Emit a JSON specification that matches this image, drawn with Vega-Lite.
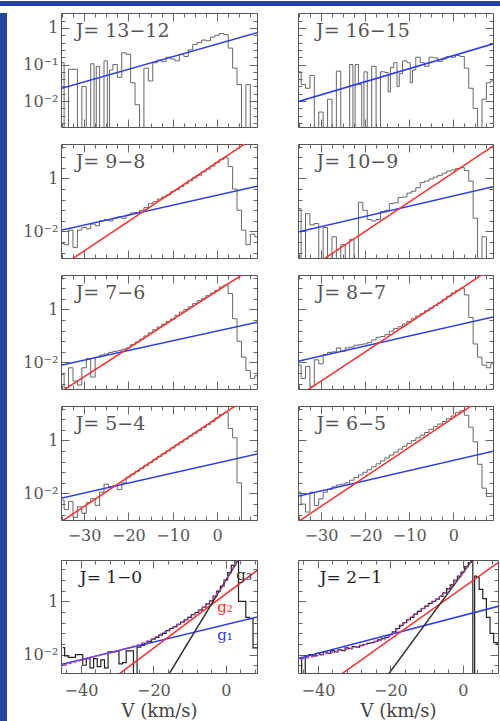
{
"$schema": "https://vega.github.io/schema/vega-lite/v6.json",
"padding": 0,
"background": "#ffffff",
"spacing": 0,
"config": {
  "view": {"stroke": "#555555", "strokeWidth": 1},
  "axis": {"domain": false, "grid": false, "tickColor": "#666666", "tickWidth": 1, "labelFont": "DejaVu Serif", "labelFontSize": 16, "labelColor": "#555555", "titleFont": "DejaVu Serif", "titleFontSize": 18, "titleFontWeight": "normal", "titleColor": "#444444", "labelPadding": 11}
},
"datasets": {
  "spec": [
    {"p":"13-12","v":-35,"t":-0.95},{"p":"13-12","v":-34,"t":-3.5},{"p":"13-12","v":-33,"t":-1.13},{"p":"13-12","v":-32,"t":-1.13},{"p":"13-12","v":-31,"t":-3.5},{"p":"13-12","v":-30,"t":-1.6},{"p":"13-12","v":-29,"t":-3.5},{"p":"13-12","v":-28,"t":-0.98},{"p":"13-12","v":-27.5,"t":-3.5},{"p":"13-12","v":-27,"t":-1.05},{"p":"13-12","v":-26,"t":-3.5},{"p":"13-12","v":-25,"t":-0.9},{"p":"13-12","v":-24.5,"t":-3.5},{"p":"13-12","v":-24,"t":-1.15},{"p":"13-12","v":-23,"t":-1.0},{"p":"13-12","v":-22,"t":-1.35},{"p":"13-12","v":-21,"t":-0.68},{"p":"13-12","v":-20,"t":-0.72},{"p":"13-12","v":-19,"t":-1.5},{"p":"13-12","v":-18,"t":-2.1},{"p":"13-12","v":-17,"t":-3.5},{"p":"13-12","v":-16,"t":-1.1},{"p":"13-12","v":-15,"t":-1.45},{"p":"13-12","v":-14,"t":-0.95},{"p":"13-12","v":-13,"t":-0.88},{"p":"13-12","v":-12,"t":-0.92},{"p":"13-12","v":-11,"t":-0.8},{"p":"13-12","v":-10,"t":-0.85},{"p":"13-12","v":-9,"t":-0.9},{"p":"13-12","v":-8,"t":-0.72},{"p":"13-12","v":-7,"t":-0.78},{"p":"13-12","v":-6,"t":-0.6},{"p":"13-12","v":-5,"t":-0.45},{"p":"13-12","v":-4,"t":-0.4},{"p":"13-12","v":-3,"t":-0.33},{"p":"13-12","v":-2,"t":-0.35},{"p":"13-12","v":-1,"t":-0.25},{"p":"13-12","v":0,"t":-0.2},{"p":"13-12","v":1,"t":-0.15},{"p":"13-12","v":2,"t":-0.18},{"p":"13-12","v":3,"t":-0.55},{"p":"13-12","v":4,"t":-1.1},{"p":"13-12","v":5,"t":-1.55},{"p":"13-12","v":6,"t":-3.5},{"p":"13-12","v":7,"t":-1.55},{"p":"13-12","v":8,"t":-3.5},{"p":"13-12","v":9,"t":-3.5},
    {"p":"16-15","v":-35,"t":-1.2},{"p":"16-15","v":-34,"t":-1.55},{"p":"16-15","v":-33,"t":-1.65},{"p":"16-15","v":-32,"t":-1.3},{"p":"16-15","v":-31,"t":-3.5},{"p":"16-15","v":-30,"t":-2.3},{"p":"16-15","v":-29,"t":-3.5},{"p":"16-15","v":-28,"t":-1.95},{"p":"16-15","v":-27,"t":-3.5},{"p":"16-15","v":-26,"t":-1.18},{"p":"16-15","v":-25,"t":-3.5},{"p":"16-15","v":-24,"t":-3.5},{"p":"16-15","v":-23,"t":-1.0},{"p":"16-15","v":-22.5,"t":-3.5},{"p":"16-15","v":-22,"t":-1.0},{"p":"16-15","v":-21,"t":-1.55},{"p":"16-15","v":-20.5,"t":-3.5},{"p":"16-15","v":-20,"t":-1.2},{"p":"16-15","v":-19,"t":-3.5},{"p":"16-15","v":-18,"t":-1.05},{"p":"16-15","v":-17,"t":-3.5},{"p":"16-15","v":-16,"t":-1.2},{"p":"16-15","v":-15,"t":-1.22},{"p":"16-15","v":-14.5,"t":-1.75},{"p":"16-15","v":-14,"t":-1.08},{"p":"16-15","v":-13,"t":-0.95},{"p":"16-15","v":-12.5,"t":-1.6},{"p":"16-15","v":-12,"t":-1.25},{"p":"16-15","v":-11,"t":-0.9},{"p":"16-15","v":-10,"t":-0.95},{"p":"16-15","v":-9.5,"t":-1.5},{"p":"16-15","v":-9,"t":-1.15},{"p":"16-15","v":-8,"t":-0.8},{"p":"16-15","v":-7,"t":-0.95},{"p":"16-15","v":-6,"t":-1.05},{"p":"16-15","v":-5,"t":-0.8},{"p":"16-15","v":-4,"t":-0.82},{"p":"16-15","v":-3,"t":-0.92},{"p":"16-15","v":-2,"t":-0.85},{"p":"16-15","v":-1,"t":-0.78},{"p":"16-15","v":0,"t":-0.8},{"p":"16-15","v":1,"t":-0.75},{"p":"16-15","v":2,"t":-0.78},{"p":"16-15","v":3,"t":-1.1},{"p":"16-15","v":4,"t":-1.65},{"p":"16-15","v":5,"t":-2.2},{"p":"16-15","v":6,"t":-3.5},{"p":"16-15","v":7,"t":-1.95},{"p":"16-15","v":8,"t":-1.5},{"p":"16-15","v":9,"t":-1.45},
    {"p":"9-8","v":-35,"t":-2.45},{"p":"9-8","v":-34,"t":-2.5},{"p":"9-8","v":-33,"t":-1.95},{"p":"9-8","v":-32,"t":-2.6},{"p":"9-8","v":-31,"t":-1.95},{"p":"9-8","v":-30,"t":-1.85},{"p":"9-8","v":-29,"t":-1.9},{"p":"9-8","v":-28,"t":-1.72},{"p":"9-8","v":-27,"t":-1.78},{"p":"9-8","v":-26,"t":-1.6},{"p":"9-8","v":-25,"t":-1.55},{"p":"9-8","v":-24,"t":-1.6},{"p":"9-8","v":-23,"t":-1.5},{"p":"9-8","v":-22,"t":-1.45},{"p":"9-8","v":-21,"t":-1.5},{"p":"9-8","v":-20,"t":-1.38},{"p":"9-8","v":-19,"t":-1.3},{"p":"9-8","v":-18,"t":-1.28},{"p":"9-8","v":-17,"t":-1.2},{"p":"9-8","v":-16,"t":-1.1},{"p":"9-8","v":-15,"t":-0.95},{"p":"9-8","v":-14,"t":-0.88},{"p":"9-8","v":-13,"t":-0.78},{"p":"9-8","v":-12,"t":-0.7},{"p":"9-8","v":-11,"t":-0.62},{"p":"9-8","v":-10,"t":-0.5},{"p":"9-8","v":-9,"t":-0.42},{"p":"9-8","v":-8,"t":-0.3},{"p":"9-8","v":-7,"t":-0.2},{"p":"9-8","v":-6,"t":-0.08},{"p":"9-8","v":-5,"t":0.02},{"p":"9-8","v":-4,"t":0.12},{"p":"9-8","v":-3,"t":0.25},{"p":"9-8","v":-2,"t":0.35},{"p":"9-8","v":-1,"t":0.47},{"p":"9-8","v":0,"t":0.6},{"p":"9-8","v":1,"t":0.72},{"p":"9-8","v":2,"t":0.78},{"p":"9-8","v":3,"t":0.45},{"p":"9-8","v":4,"t":-0.4},{"p":"9-8","v":5,"t":-1.2},{"p":"9-8","v":6,"t":-1.95},{"p":"9-8","v":7,"t":-2.5},{"p":"9-8","v":8,"t":-2.1},{"p":"9-8","v":9,"t":-2.2},
    {"p":"10-9","v":-35,"t":-1.14},{"p":"10-9","v":-34,"t":-3.5},{"p":"10-9","v":-33,"t":-1.33},{"p":"10-9","v":-32,"t":-1.75},{"p":"10-9","v":-31,"t":-1.7},{"p":"10-9","v":-30,"t":-3.5},{"p":"10-9","v":-29,"t":-1.85},{"p":"10-9","v":-28,"t":-3.5},{"p":"10-9","v":-27,"t":-2.2},{"p":"10-9","v":-26,"t":-3.5},{"p":"10-9","v":-25,"t":-2.5},{"p":"10-9","v":-24,"t":-3.5},{"p":"10-9","v":-23,"t":-2.3},{"p":"10-9","v":-22,"t":-3.5},{"p":"10-9","v":-21,"t":-0.9},{"p":"10-9","v":-20,"t":-1.2},{"p":"10-9","v":-19,"t":-1.55},{"p":"10-9","v":-18,"t":-1.6},{"p":"10-9","v":-17,"t":-1.55},{"p":"10-9","v":-16,"t":-1.25},{"p":"10-9","v":-15,"t":-1.2},{"p":"10-9","v":-14,"t":-0.95},{"p":"10-9","v":-13,"t":-0.92},{"p":"10-9","v":-12,"t":-0.72},{"p":"10-9","v":-11,"t":-0.7},{"p":"10-9","v":-10,"t":-0.55},{"p":"10-9","v":-9,"t":-0.48},{"p":"10-9","v":-8,"t":-0.35},{"p":"10-9","v":-7,"t":-0.15},{"p":"10-9","v":-6,"t":-0.1},{"p":"10-9","v":-5,"t":-0.02},{"p":"10-9","v":-4,"t":0.05},{"p":"10-9","v":-3,"t":0.12},{"p":"10-9","v":-2,"t":0.2},{"p":"10-9","v":-1,"t":0.28},{"p":"10-9","v":0,"t":0.32},{"p":"10-9","v":1,"t":0.37},{"p":"10-9","v":2,"t":0.41},{"p":"10-9","v":3,"t":0.3},{"p":"10-9","v":4,"t":-0.1},{"p":"10-9","v":5,"t":-1.5},{"p":"10-9","v":6,"t":-3.5},{"p":"10-9","v":7,"t":-2.2},{"p":"10-9","v":8,"t":-3.5},{"p":"10-9","v":9,"t":-3.5},
    {"p":"7-6","v":-35,"t":-2.45},{"p":"7-6","v":-34,"t":-2.95},{"p":"7-6","v":-33,"t":-2.2},{"p":"7-6","v":-32,"t":-2.7},{"p":"7-6","v":-31,"t":-2.85},{"p":"7-6","v":-30,"t":-2.2},{"p":"7-6","v":-29,"t":-1.85},{"p":"7-6","v":-28,"t":-2.55},{"p":"7-6","v":-27,"t":-1.8},{"p":"7-6","v":-26,"t":-1.72},{"p":"7-6","v":-25,"t":-1.68},{"p":"7-6","v":-24,"t":-1.62},{"p":"7-6","v":-23,"t":-1.58},{"p":"7-6","v":-22,"t":-1.55},{"p":"7-6","v":-21,"t":-1.5},{"p":"7-6","v":-20,"t":-1.45},{"p":"7-6","v":-19,"t":-1.33},{"p":"7-6","v":-18,"t":-1.23},{"p":"7-6","v":-17,"t":-1.12},{"p":"7-6","v":-16,"t":-1.0},{"p":"7-6","v":-15,"t":-0.88},{"p":"7-6","v":-14,"t":-0.76},{"p":"7-6","v":-13,"t":-0.66},{"p":"7-6","v":-12,"t":-0.56},{"p":"7-6","v":-11,"t":-0.45},{"p":"7-6","v":-10,"t":-0.36},{"p":"7-6","v":-9,"t":-0.22},{"p":"7-6","v":-8,"t":-0.1},{"p":"7-6","v":-7,"t":0.0},{"p":"7-6","v":-6,"t":0.1},{"p":"7-6","v":-5,"t":0.22},{"p":"7-6","v":-4,"t":0.33},{"p":"7-6","v":-3,"t":0.42},{"p":"7-6","v":-2,"t":0.52},{"p":"7-6","v":-1,"t":0.62},{"p":"7-6","v":0,"t":0.72},{"p":"7-6","v":1,"t":0.85},{"p":"7-6","v":2,"t":0.92},{"p":"7-6","v":3,"t":0.6},{"p":"7-6","v":4,"t":-0.35},{"p":"7-6","v":5,"t":-1.2},{"p":"7-6","v":6,"t":-1.8},{"p":"7-6","v":7,"t":-2.3},{"p":"7-6","v":8,"t":-2.6},{"p":"7-6","v":9,"t":-2.5},
    {"p":"8-7","v":-35,"t":-2.1},{"p":"8-7","v":-34,"t":-2.6},{"p":"8-7","v":-33,"t":-2.15},{"p":"8-7","v":-32,"t":-2.9},{"p":"8-7","v":-31,"t":-1.9},{"p":"8-7","v":-30,"t":-2.05},{"p":"8-7","v":-29,"t":-1.7},{"p":"8-7","v":-28,"t":-1.62},{"p":"8-7","v":-27,"t":-1.6},{"p":"8-7","v":-26,"t":-1.45},{"p":"8-7","v":-25,"t":-1.58},{"p":"8-7","v":-24,"t":-1.45},{"p":"8-7","v":-23,"t":-1.42},{"p":"8-7","v":-22,"t":-1.35},{"p":"8-7","v":-21,"t":-1.33},{"p":"8-7","v":-20,"t":-1.3},{"p":"8-7","v":-19,"t":-1.25},{"p":"8-7","v":-18,"t":-1.15},{"p":"8-7","v":-17,"t":-1.05},{"p":"8-7","v":-16,"t":-1.02},{"p":"8-7","v":-15,"t":-0.95},{"p":"8-7","v":-14,"t":-0.82},{"p":"8-7","v":-13,"t":-0.72},{"p":"8-7","v":-12,"t":-0.65},{"p":"8-7","v":-11,"t":-0.55},{"p":"8-7","v":-10,"t":-0.45},{"p":"8-7","v":-9,"t":-0.35},{"p":"8-7","v":-8,"t":-0.25},{"p":"8-7","v":-7,"t":-0.15},{"p":"8-7","v":-6,"t":-0.05},{"p":"8-7","v":-5,"t":0.05},{"p":"8-7","v":-4,"t":0.15},{"p":"8-7","v":-3,"t":0.25},{"p":"8-7","v":-2,"t":0.38},{"p":"8-7","v":-1,"t":0.5},{"p":"8-7","v":0,"t":0.62},{"p":"8-7","v":1,"t":0.72},{"p":"8-7","v":2,"t":0.8},{"p":"8-7","v":3,"t":0.55},{"p":"8-7","v":4,"t":-0.3},{"p":"8-7","v":5,"t":-1.3},{"p":"8-7","v":6,"t":-1.8},{"p":"8-7","v":7,"t":-2.1},{"p":"8-7","v":8,"t":-2.2},{"p":"8-7","v":9,"t":-2.05},
    {"p":"5-4","v":-35,"t":-2.25},{"p":"5-4","v":-34,"t":-2.6},{"p":"5-4","v":-33,"t":-2.3},{"p":"5-4","v":-32,"t":-2.9},{"p":"5-4","v":-31,"t":-2.5},{"p":"5-4","v":-30,"t":-2.75},{"p":"5-4","v":-29,"t":-2.35},{"p":"5-4","v":-28,"t":-2.2},{"p":"5-4","v":-27,"t":-2.45},{"p":"5-4","v":-26,"t":-1.95},{"p":"5-4","v":-25,"t":-1.65},{"p":"5-4","v":-24,"t":-1.75},{"p":"5-4","v":-23,"t":-1.7},{"p":"5-4","v":-22,"t":-1.85},{"p":"5-4","v":-21,"t":-1.6},{"p":"5-4","v":-20,"t":-1.38},{"p":"5-4","v":-19,"t":-1.27},{"p":"5-4","v":-18,"t":-1.16},{"p":"5-4","v":-17,"t":-1.05},{"p":"5-4","v":-16,"t":-0.94},{"p":"5-4","v":-15,"t":-0.83},{"p":"5-4","v":-14,"t":-0.72},{"p":"5-4","v":-13,"t":-0.61},{"p":"5-4","v":-12,"t":-0.5},{"p":"5-4","v":-11,"t":-0.39},{"p":"5-4","v":-10,"t":-0.28},{"p":"5-4","v":-9,"t":-0.17},{"p":"5-4","v":-8,"t":-0.06},{"p":"5-4","v":-7,"t":0.05},{"p":"5-4","v":-6,"t":0.16},{"p":"5-4","v":-5,"t":0.27},{"p":"5-4","v":-4,"t":0.38},{"p":"5-4","v":-3,"t":0.49},{"p":"5-4","v":-2,"t":0.6},{"p":"5-4","v":-1,"t":0.71},{"p":"5-4","v":0,"t":0.85},{"p":"5-4","v":1,"t":0.98},{"p":"5-4","v":2,"t":1.05},{"p":"5-4","v":3,"t":0.45},{"p":"5-4","v":4,"t":0.1},{"p":"5-4","v":5,"t":-1.6},{"p":"5-4","v":6,"t":-3.5},{"p":"5-4","v":7,"t":-3.5},{"p":"5-4","v":8,"t":-3.5},{"p":"5-4","v":9,"t":-3.5},
    {"p":"6-5","v":-35,"t":-1.95},{"p":"6-5","v":-34,"t":-2.4},{"p":"6-5","v":-33,"t":-2.7},{"p":"6-5","v":-32,"t":-1.95},{"p":"6-5","v":-31,"t":-2.45},{"p":"6-5","v":-30,"t":-2.2},{"p":"6-5","v":-29,"t":-1.95},{"p":"6-5","v":-28,"t":-1.85},{"p":"6-5","v":-27,"t":-1.75},{"p":"6-5","v":-26,"t":-1.68},{"p":"6-5","v":-25,"t":-1.65},{"p":"6-5","v":-24,"t":-1.6},{"p":"6-5","v":-23,"t":-1.5},{"p":"6-5","v":-22,"t":-1.4},{"p":"6-5","v":-21,"t":-1.3},{"p":"6-5","v":-20,"t":-1.2},{"p":"6-5","v":-19,"t":-1.1},{"p":"6-5","v":-18,"t":-0.99},{"p":"6-5","v":-17,"t":-0.88},{"p":"6-5","v":-16,"t":-0.77},{"p":"6-5","v":-15,"t":-0.66},{"p":"6-5","v":-14,"t":-0.55},{"p":"6-5","v":-13,"t":-0.44},{"p":"6-5","v":-12,"t":-0.33},{"p":"6-5","v":-11,"t":-0.22},{"p":"6-5","v":-10,"t":-0.11},{"p":"6-5","v":-9,"t":0.0},{"p":"6-5","v":-8,"t":0.1},{"p":"6-5","v":-7,"t":0.2},{"p":"6-5","v":-6,"t":0.3},{"p":"6-5","v":-5,"t":0.42},{"p":"6-5","v":-4,"t":0.52},{"p":"6-5","v":-3,"t":0.62},{"p":"6-5","v":-2,"t":0.72},{"p":"6-5","v":-1,"t":0.82},{"p":"6-5","v":0,"t":0.92},{"p":"6-5","v":1,"t":1.05},{"p":"6-5","v":2,"t":1.12},{"p":"6-5","v":3,"t":0.95},{"p":"6-5","v":4,"t":0.5},{"p":"6-5","v":5,"t":-0.05},{"p":"6-5","v":6,"t":-0.9},{"p":"6-5","v":7,"t":-1.8},{"p":"6-5","v":8,"t":-2.12},{"p":"6-5","v":9,"t":-2.1},
    {"p":"1-0","v":-45,"t":-1.74},{"p":"1-0","v":-44,"t":-2.05},{"p":"1-0","v":-43,"t":-2.1},{"p":"1-0","v":-42,"t":-2.1},{"p":"1-0","v":-41,"t":-2.0},{"p":"1-0","v":-40,"t":-2.0},{"p":"1-0","v":-39,"t":-2.4},{"p":"1-0","v":-38,"t":-2.15},{"p":"1-0","v":-37,"t":-2.5},{"p":"1-0","v":-36,"t":-2.15},{"p":"1-0","v":-35,"t":-2.45},{"p":"1-0","v":-34,"t":-2.2},{"p":"1-0","v":-33,"t":-2.5},{"p":"1-0","v":-32,"t":-1.9},{"p":"1-0","v":-31,"t":-1.9},{"p":"1-0","v":-30,"t":-1.88},{"p":"1-0","v":-29,"t":-2.35},{"p":"1-0","v":-28,"t":-2.3},{"p":"1-0","v":-27,"t":-1.86},{"p":"1-0","v":-26,"t":-1.86},{"p":"1-0","v":-25,"t":-2.75},{"p":"1-0","v":-24,"t":-1.72},{"p":"1-0","v":-23,"t":-1.65},{"p":"1-0","v":-22,"t":-1.58},{"p":"1-0","v":-21,"t":-1.5},{"p":"1-0","v":-20,"t":-1.42},{"p":"1-0","v":-19,"t":-1.35},{"p":"1-0","v":-18,"t":-1.27},{"p":"1-0","v":-17,"t":-1.2},{"p":"1-0","v":-16,"t":-1.1},{"p":"1-0","v":-15,"t":-1.02},{"p":"1-0","v":-14,"t":-0.95},{"p":"1-0","v":-13,"t":-0.86},{"p":"1-0","v":-12,"t":-0.78},{"p":"1-0","v":-11,"t":-0.7},{"p":"1-0","v":-10,"t":-0.6},{"p":"1-0","v":-9,"t":-0.5},{"p":"1-0","v":-8,"t":-0.42},{"p":"1-0","v":-7,"t":-0.33},{"p":"1-0","v":-6,"t":-0.22},{"p":"1-0","v":-5,"t":-0.1},{"p":"1-0","v":-4,"t":0.02},{"p":"1-0","v":-3,"t":0.2},{"p":"1-0","v":-2,"t":0.38},{"p":"1-0","v":-1,"t":0.57},{"p":"1-0","v":0,"t":0.8},{"p":"1-0","v":1,"t":1.08},{"p":"1-0","v":2,"t":1.35},{"p":"1-0","v":3,"t":1.65},{"p":"1-0","v":4,"t":0.0},{"p":"1-0","v":5,"t":0.0},{"p":"1-0","v":6,"t":-0.6},{"p":"1-0","v":7,"t":-0.65},{"p":"1-0","v":8,"t":-1.75},{"p":"1-0","v":9,"t":-1.75},
    {"p":"2-1","v":-45,"t":-2.15},{"p":"2-1","v":-44,"t":-2.75},{"p":"2-1","v":-43,"t":-2.05},{"p":"2-1","v":-42,"t":-2.0},{"p":"2-1","v":-41,"t":-2.05},{"p":"2-1","v":-40,"t":-1.95},{"p":"2-1","v":-39,"t":-2.0},{"p":"2-1","v":-38,"t":-1.9},{"p":"2-1","v":-37,"t":-1.95},{"p":"2-1","v":-36,"t":-1.85},{"p":"2-1","v":-35,"t":-1.9},{"p":"2-1","v":-34,"t":-1.82},{"p":"2-1","v":-33,"t":-1.85},{"p":"2-1","v":-32,"t":-1.75},{"p":"2-1","v":-31,"t":-1.78},{"p":"2-1","v":-30,"t":-1.7},{"p":"2-1","v":-29,"t":-1.72},{"p":"2-1","v":-28,"t":-1.65},{"p":"2-1","v":-27,"t":-1.62},{"p":"2-1","v":-26,"t":-1.58},{"p":"2-1","v":-25,"t":-1.55},{"p":"2-1","v":-24,"t":-1.5},{"p":"2-1","v":-23,"t":-1.45},{"p":"2-1","v":-22,"t":-1.4},{"p":"2-1","v":-21,"t":-1.35},{"p":"2-1","v":-20,"t":-1.25},{"p":"2-1","v":-19,"t":-1.15},{"p":"2-1","v":-18,"t":-1.02},{"p":"2-1","v":-17,"t":-0.9},{"p":"2-1","v":-16,"t":-0.8},{"p":"2-1","v":-15,"t":-0.7},{"p":"2-1","v":-14,"t":-0.6},{"p":"2-1","v":-13,"t":-0.48},{"p":"2-1","v":-12,"t":-0.38},{"p":"2-1","v":-11,"t":-0.28},{"p":"2-1","v":-10,"t":-0.18},{"p":"2-1","v":-9,"t":-0.08},{"p":"2-1","v":-8,"t":0.0},{"p":"2-1","v":-7,"t":0.08},{"p":"2-1","v":-6,"t":0.18},{"p":"2-1","v":-5,"t":0.32},{"p":"2-1","v":-4,"t":0.48},{"p":"2-1","v":-3,"t":0.62},{"p":"2-1","v":-2,"t":0.8},{"p":"2-1","v":-1,"t":0.95},{"p":"2-1","v":0,"t":1.1},{"p":"2-1","v":1,"t":1.3},{"p":"2-1","v":2,"t":1.45},{"p":"2-1","v":2.5,"t":1.55},{"p":"2-1","v":3,"t":-2.8},{"p":"2-1","v":3.5,"t":0.95},{"p":"2-1","v":4,"t":0.9},{"p":"2-1","v":5,"t":0.45},{"p":"2-1","v":6,"t":0.1},{"p":"2-1","v":7,"t":-0.6},{"p":"2-1","v":8,"t":-1.2},{"p":"2-1","v":9,"t":-1.55},{"p":"2-1","v":10,"t":-1.6}
  ],
  "lines": [
    {"p":"13-12","s":"g1","v":-36,"t":-1.684},{"p":"13-12","s":"g1","v":10,"t":-0.097},
    {"p":"16-15","s":"g1","v":-36,"t":-2.045},{"p":"16-15","s":"g1","v":10,"t":-0.4},
    {"p":"9-8","s":"g1","v":-36,"t":-1.987},{"p":"9-8","s":"g1","v":10,"t":-0.26},
    {"p":"9-8","s":"g2","v":-33,"t":-3.07},{"p":"9-8","s":"g2","v":7,"t":1.39},
    {"p":"10-9","s":"g1","v":-36,"t":-2.048},{"p":"10-9","s":"g1","v":10,"t":-0.27},
    {"p":"10-9","s":"g2","v":-30,"t":-3.11},{"p":"10-9","s":"g2","v":10,"t":1.33},
    {"p":"7-6","s":"g1","v":-36,"t":-2.137},{"p":"7-6","s":"g1","v":10,"t":-0.45},
    {"p":"7-6","s":"g2","v":-35,"t":-3.08},{"p":"7-6","s":"g2","v":6.5,"t":1.4},
    {"p":"8-7","s":"g1","v":-36,"t":-1.987},{"p":"8-7","s":"g1","v":10,"t":-0.25},
    {"p":"8-7","s":"g2","v":-33.5,"t":-3.09},{"p":"8-7","s":"g2","v":7.5,"t":1.42},
    {"p":"5-4","s":"g1","v":-36,"t":-2.207},{"p":"5-4","s":"g1","v":10,"t":-0.47},
    {"p":"5-4","s":"g2","v":-35.5,"t":-3.1},{"p":"5-4","s":"g2","v":5,"t":1.4},
    {"p":"6-5","s":"g1","v":-36,"t":-2.138},{"p":"6-5","s":"g1","v":10,"t":-0.37},
    {"p":"6-5","s":"g2","v":-35.5,"t":-3.1},{"p":"6-5","s":"g2","v":5,"t":1.41},
    {"p":"1-0","s":"g1","v":-46,"t":-2.39},{"p":"1-0","s":"g1","v":10,"t":-0.54},
    {"p":"1-0","s":"g2","v":-29.5,"t":-2.73},{"p":"1-0","s":"g2","v":10,"t":1.3},
    {"p":"1-0","s":"g3","v":-15.5,"t":-2.69},{"p":"1-0","s":"g3","v":3.6,"t":1.59},
    {"p":"2-1","s":"g1","v":-46,"t":-2.167},{"p":"2-1","s":"g1","v":10,"t":-0.18},
    {"p":"2-1","s":"g2","v":-33.5,"t":-2.73},{"p":"2-1","s":"g2","v":10,"t":1.48},
    {"p":"2-1","s":"g3","v":-21,"t":-2.82},{"p":"2-1","s":"g3","v":2.8,"t":1.585}
  ],
  "fit": [
    {"p":"1-0","v":-46,"t":-2.45},{"p":"1-0","v":-45.2,"t":-2.42},{"p":"1-0","v":-38.3,"t":-2.15},{"p":"1-0","v":-29,"t":-1.82},{"p":"1-0","v":-21.7,"t":-1.5},{"p":"1-0","v":-17.1,"t":-1.17},{"p":"1-0","v":-12.5,"t":-0.82},{"p":"1-0","v":-7.9,"t":-0.4},{"p":"1-0","v":-4.2,"t":0.02},{"p":"1-0","v":-1.5,"t":0.45},{"p":"1-0","v":1.3,"t":1.1},{"p":"1-0","v":3.3,"t":1.55},
    {"p":"2-1","v":-46,"t":-2.2},{"p":"2-1","v":-45.2,"t":-2.18},{"p":"2-1","v":-35,"t":-1.88},{"p":"2-1","v":-25,"t":-1.55},{"p":"2-1","v":-20.5,"t":-1.33},{"p":"2-1","v":-17.5,"t":-0.98},{"p":"2-1","v":-12.8,"t":-0.45},{"p":"2-1","v":-8,"t":0.0},{"p":"2-1","v":-4,"t":0.45},{"p":"2-1","v":0,"t":1.05},{"p":"2-1","v":2.2,"t":1.5}
  ],
  "labs": [
    {"p":"13-12","v":-31.9,"t":-0.24,"txt":"J= 13−12"},
    {"p":"16-15","v":-31.1,"t":-0.24,"txt":"J= 16−15"},
    {"p":"9-8","v":-31.9,"t":0.4,"txt":"J= 9−8"},
    {"p":"10-9","v":-31.0,"t":0.4,"txt":"J= 10−9"},
    {"p":"7-6","v":-31.9,"t":0.4,"txt":"J= 7−6"},
    {"p":"8-7","v":-31.0,"t":0.4,"txt":"J= 8−7"},
    {"p":"5-4","v":-31.9,"t":0.4,"txt":"J= 5−4"},
    {"p":"6-5","v":-31.0,"t":0.4,"txt":"J= 6−5"},
    {"p":"1-0","v":-40.3,"t":0.7,"txt":"J= 1−0"},
    {"p":"2-1","v":-39.5,"t":0.7,"txt":"J= 2−1"}
  ],
  "glabs": [
    {"p":"1-0","s":"g1","v":-2.4,"t":-1.26,"txt":"g₁"},
    {"p":"1-0","s":"g2","v":-2.4,"t":-0.21,"txt":"g₂"},
    {"p":"1-0","s":"g3","v":2.9,"t":0.98,"txt":"g₃"}
  ]
},
"vconcat": [
  {"width": 500, "height": 5, "view": {"fill": "#23459c", "stroke": null}, "data": {"values": [{}]}, "mark": {"type": "point", "opacity": 0}, "encoding": {}},
  {"spacing": 15, "hconcat": [
    {"width": 7, "height": 716, "view": {"fill": "#23459c", "stroke": null}, "data": {"values": [{}]}, "mark": {"type": "point", "opacity": 0}, "encoding": {}},
    {"columns": 2, "align": "each", "bounds": "full", "spacing": {"row": 15, "column": 39}, "concat": [
      {"width": 196, "height": 114, "resolve": {"axis": {"x": "independent", "y": "independent"}}, "layer": [
        {"data": {"name": "spec"}, "transform": [{"filter": "datum.p == '13-12'"}], "mark": {"type": "line", "interpolate": "step", "clip": true, "color": "#666666", "strokeWidth": 1},
         "encoding": {"x": {"field": "v", "type": "quantitative", "scale": {"domain": [-35.2, 9], "nice": false, "zero": false}, "axis": {"orient": "bottom", "values": [-35,-32.5,-30,-27.5,-25,-22.5,-20,-17.5,-15,-12.5,-10,-7.5,-5,-2.5,0,2.5,5,7.5], "labels": false, "title": null, "tickSize": {"condition": {"test": "datum.value % 10 == 0", "value": -8}, "value": -4}}},
                      "y": {"field": "t", "type": "quantitative", "scale": {"domain": [-2.71, 0.41], "nice": false, "zero": false}, "axis": {"orient": "left", "values": [-2.6,-2.4,-2.2,-2,-1.8,-1.6,-1.4,-1.2,-1,-0.8,-0.6,-0.4,-0.2,0,0.2,0.4], "labelExpr": "datum.value == 0 ? '1' : datum.value == -1 ? '10⁻¹' : datum.value == -2 ? '10⁻²' : ''", "title": null, "tickSize": {"condition": {"test": "datum.value == 0 || datum.value == -1 || datum.value == -2", "value": -8}, "value": -4}}}}},
        {"data": {"name": "lines"}, "transform": [{"filter": "datum.p == '13-12'"}], "mark": {"type": "line", "clip": true, "strokeWidth": 1.5},
         "encoding": {"x": {"field": "v", "type": "quantitative", "scale": {"domain": [-35.2, 9], "nice": false, "zero": false}, "axis": {"orient": "top", "values": [-35,-32.5,-30,-27.5,-25,-22.5,-20,-17.5,-15,-12.5,-10,-7.5,-5,-2.5,0,2.5,5,7.5], "labels": false, "title": " ", "titleFontSize": 4.5, "titlePadding": 0, "tickSize": {"condition": {"test": "datum.value % 10 == 0", "value": -8}, "value": -4}}},
                      "y": {"field": "t", "type": "quantitative", "scale": {"domain": [-2.71, 0.41], "nice": false, "zero": false}, "axis": {"orient": "right", "values": [-2.6,-2.4,-2.2,-2,-1.8,-1.6,-1.4,-1.2,-1,-0.8,-0.6,-0.4,-0.2,0,0.2,0.4], "labels": false, "title": null, "tickSize": {"condition": {"test": "datum.value == 0 || datum.value == -1 || datum.value == -2", "value": -8}, "value": -4}}},
                      "color": {"field": "s", "type": "nominal", "scale": {"domain": ["g1","g2","g3"], "range": ["#2b3bf0","#ff2a2a","#333333"]}, "legend": null}}},
        {"data": {"name": "labs"}, "transform": [{"filter": "datum.p == '13-12'"}], "mark": {"type": "text", "align": "left", "baseline": "alphabetic", "font": "DejaVu Serif", "fontSize": 19, "color": "#555555"},
         "encoding": {"x": {"field": "v", "type": "quantitative", "scale": {"domain": [-35.2, 9], "nice": false, "zero": false}, "axis": null}, "y": {"field": "t", "type": "quantitative", "scale": {"domain": [-2.71, 0.41], "nice": false, "zero": false}, "axis": null}, "text": {"field": "txt"}}}
      ]},
      {"width": 195, "height": 114, "resolve": {"axis": {"x": "independent", "y": "independent"}}, "layer": [
        {"data": {"name": "spec"}, "transform": [{"filter": "datum.p == '16-15'"}], "mark": {"type": "line", "interpolate": "step", "clip": true, "color": "#666666", "strokeWidth": 1},
         "encoding": {"x": {"field": "v", "type": "quantitative", "scale": {"domain": [-35.2, 9], "nice": false, "zero": false}, "axis": {"orient": "bottom", "values": [-35,-32.5,-30,-27.5,-25,-22.5,-20,-17.5,-15,-12.5,-10,-7.5,-5,-2.5,0,2.5,5,7.5], "labels": false, "title": null, "tickSize": {"condition": {"test": "datum.value % 10 == 0", "value": -8}, "value": -4}}},
                      "y": {"field": "t", "type": "quantitative", "scale": {"domain": [-2.71, 0.41], "nice": false, "zero": false}, "axis": {"orient": "left", "values": [-2.6,-2.4,-2.2,-2,-1.8,-1.6,-1.4,-1.2,-1,-0.8,-0.6,-0.4,-0.2,0,0.2,0.4], "labels": false, "title": null, "tickSize": {"condition": {"test": "datum.value == 0 || datum.value == -1 || datum.value == -2", "value": -8}, "value": -4}}}}},
        {"data": {"name": "lines"}, "transform": [{"filter": "datum.p == '16-15'"}], "mark": {"type": "line", "clip": true, "strokeWidth": 1.5},
         "encoding": {"x": {"field": "v", "type": "quantitative", "scale": {"domain": [-35.2, 9], "nice": false, "zero": false}, "axis": {"orient": "top", "values": [-35,-32.5,-30,-27.5,-25,-22.5,-20,-17.5,-15,-12.5,-10,-7.5,-5,-2.5,0,2.5,5,7.5], "labels": false, "title": " ", "titleFontSize": 4.5, "titlePadding": 0, "tickSize": {"condition": {"test": "datum.value % 10 == 0", "value": -8}, "value": -4}}},
                      "y": {"field": "t", "type": "quantitative", "scale": {"domain": [-2.71, 0.41], "nice": false, "zero": false}, "axis": {"orient": "right", "values": [-2.6,-2.4,-2.2,-2,-1.8,-1.6,-1.4,-1.2,-1,-0.8,-0.6,-0.4,-0.2,0,0.2,0.4], "labels": false, "title": null, "tickSize": {"condition": {"test": "datum.value == 0 || datum.value == -1 || datum.value == -2", "value": -8}, "value": -4}}},
                      "color": {"field": "s", "type": "nominal", "scale": {"domain": ["g1","g2","g3"], "range": ["#2b3bf0","#ff2a2a","#333333"]}, "legend": null}}},
        {"data": {"name": "labs"}, "transform": [{"filter": "datum.p == '16-15'"}], "mark": {"type": "text", "align": "left", "baseline": "alphabetic", "font": "DejaVu Serif", "fontSize": 19, "color": "#555555"},
         "encoding": {"x": {"field": "v", "type": "quantitative", "scale": {"domain": [-35.2, 9], "nice": false, "zero": false}, "axis": null}, "y": {"field": "t", "type": "quantitative", "scale": {"domain": [-2.71, 0.41], "nice": false, "zero": false}, "axis": null}, "text": {"field": "txt"}}}
      ]},
      {"width": 196, "height": 114, "resolve": {"axis": {"x": "independent", "y": "independent"}}, "layer": [
        {"data": {"name": "spec"}, "transform": [{"filter": "datum.p == '9-8'"}], "mark": {"type": "line", "interpolate": "step", "clip": true, "color": "#666666", "strokeWidth": 1},
         "encoding": {"x": {"field": "v", "type": "quantitative", "scale": {"domain": [-35.2, 9], "nice": false, "zero": false}, "axis": {"orient": "bottom", "values": [-35,-32.5,-30,-27.5,-25,-22.5,-20,-17.5,-15,-12.5,-10,-7.5,-5,-2.5,0,2.5,5,7.5], "labels": false, "title": null, "tickSize": {"condition": {"test": "datum.value % 10 == 0", "value": -8}, "value": -4}}},
                      "y": {"field": "t", "type": "quantitative", "scale": {"domain": [-3, 1.3], "nice": false, "zero": false}, "axis": {"orient": "left", "values": [-2.8,-2.4,-2,-1.6,-1.2,-0.8,-0.4,0,0.4,0.8,1.2], "labelExpr": "datum.value == 0 ? '1' : datum.value == -2 ? '10⁻²' : ''", "title": null, "tickSize": {"condition": {"test": "datum.value == 0 || datum.value == -2", "value": -8}, "value": -4}}}}},
        {"data": {"name": "lines"}, "transform": [{"filter": "datum.p == '9-8'"}], "mark": {"type": "line", "clip": true, "strokeWidth": 1.5},
         "encoding": {"x": {"field": "v", "type": "quantitative", "scale": {"domain": [-35.2, 9], "nice": false, "zero": false}, "axis": {"orient": "top", "values": [-35,-32.5,-30,-27.5,-25,-22.5,-20,-17.5,-15,-12.5,-10,-7.5,-5,-2.5,0,2.5,5,7.5], "labels": false, "title": null, "tickSize": {"condition": {"test": "datum.value % 10 == 0", "value": -8}, "value": -4}}},
                      "y": {"field": "t", "type": "quantitative", "scale": {"domain": [-3, 1.3], "nice": false, "zero": false}, "axis": {"orient": "right", "values": [-2.8,-2.4,-2,-1.6,-1.2,-0.8,-0.4,0,0.4,0.8,1.2], "labels": false, "title": null, "tickSize": {"condition": {"test": "datum.value == 0 || datum.value == -2", "value": -8}, "value": -4}}},
                      "color": {"field": "s", "type": "nominal", "scale": {"domain": ["g1","g2","g3"], "range": ["#2b3bf0","#ff2a2a","#333333"]}, "legend": null}}},
        {"data": {"name": "labs"}, "transform": [{"filter": "datum.p == '9-8'"}], "mark": {"type": "text", "align": "left", "baseline": "alphabetic", "font": "DejaVu Serif", "fontSize": 19, "color": "#555555"},
         "encoding": {"x": {"field": "v", "type": "quantitative", "scale": {"domain": [-35.2, 9], "nice": false, "zero": false}, "axis": null}, "y": {"field": "t", "type": "quantitative", "scale": {"domain": [-3, 1.3], "nice": false, "zero": false}, "axis": null}, "text": {"field": "txt"}}}
      ]},
      {"width": 195, "height": 114, "resolve": {"axis": {"x": "independent", "y": "independent"}}, "layer": [
        {"data": {"name": "spec"}, "transform": [{"filter": "datum.p == '10-9'"}], "mark": {"type": "line", "interpolate": "step", "clip": true, "color": "#666666", "strokeWidth": 1},
         "encoding": {"x": {"field": "v", "type": "quantitative", "scale": {"domain": [-35.2, 9], "nice": false, "zero": false}, "axis": {"orient": "bottom", "values": [-35,-32.5,-30,-27.5,-25,-22.5,-20,-17.5,-15,-12.5,-10,-7.5,-5,-2.5,0,2.5,5,7.5], "labels": false, "title": null, "tickSize": {"condition": {"test": "datum.value % 10 == 0", "value": -8}, "value": -4}}},
                      "y": {"field": "t", "type": "quantitative", "scale": {"domain": [-3, 1.3], "nice": false, "zero": false}, "axis": {"orient": "left", "values": [-2.8,-2.4,-2,-1.6,-1.2,-0.8,-0.4,0,0.4,0.8,1.2], "labels": false, "title": null, "tickSize": {"condition": {"test": "datum.value == 0 || datum.value == -2", "value": -8}, "value": -4}}}}},
        {"data": {"name": "lines"}, "transform": [{"filter": "datum.p == '10-9'"}], "mark": {"type": "line", "clip": true, "strokeWidth": 1.5},
         "encoding": {"x": {"field": "v", "type": "quantitative", "scale": {"domain": [-35.2, 9], "nice": false, "zero": false}, "axis": {"orient": "top", "values": [-35,-32.5,-30,-27.5,-25,-22.5,-20,-17.5,-15,-12.5,-10,-7.5,-5,-2.5,0,2.5,5,7.5], "labels": false, "title": null, "tickSize": {"condition": {"test": "datum.value % 10 == 0", "value": -8}, "value": -4}}},
                      "y": {"field": "t", "type": "quantitative", "scale": {"domain": [-3, 1.3], "nice": false, "zero": false}, "axis": {"orient": "right", "values": [-2.8,-2.4,-2,-1.6,-1.2,-0.8,-0.4,0,0.4,0.8,1.2], "labels": false, "title": null, "tickSize": {"condition": {"test": "datum.value == 0 || datum.value == -2", "value": -8}, "value": -4}}},
                      "color": {"field": "s", "type": "nominal", "scale": {"domain": ["g1","g2","g3"], "range": ["#2b3bf0","#ff2a2a","#333333"]}, "legend": null}}},
        {"data": {"name": "labs"}, "transform": [{"filter": "datum.p == '10-9'"}], "mark": {"type": "text", "align": "left", "baseline": "alphabetic", "font": "DejaVu Serif", "fontSize": 19, "color": "#555555"},
         "encoding": {"x": {"field": "v", "type": "quantitative", "scale": {"domain": [-35.2, 9], "nice": false, "zero": false}, "axis": null}, "y": {"field": "t", "type": "quantitative", "scale": {"domain": [-3, 1.3], "nice": false, "zero": false}, "axis": null}, "text": {"field": "txt"}}}
      ]},
      {"width": 196, "height": 114, "resolve": {"axis": {"x": "independent", "y": "independent"}}, "layer": [
        {"data": {"name": "spec"}, "transform": [{"filter": "datum.p == '7-6'"}], "mark": {"type": "line", "interpolate": "step", "clip": true, "color": "#666666", "strokeWidth": 1},
         "encoding": {"x": {"field": "v", "type": "quantitative", "scale": {"domain": [-35.2, 9], "nice": false, "zero": false}, "axis": {"orient": "bottom", "values": [-35,-32.5,-30,-27.5,-25,-22.5,-20,-17.5,-15,-12.5,-10,-7.5,-5,-2.5,0,2.5,5,7.5], "labels": false, "title": null, "tickSize": {"condition": {"test": "datum.value % 10 == 0", "value": -8}, "value": -4}}},
                      "y": {"field": "t", "type": "quantitative", "scale": {"domain": [-3, 1.3], "nice": false, "zero": false}, "axis": {"orient": "left", "values": [-2.8,-2.4,-2,-1.6,-1.2,-0.8,-0.4,0,0.4,0.8,1.2], "labelExpr": "datum.value == 0 ? '1' : datum.value == -2 ? '10⁻²' : ''", "title": null, "tickSize": {"condition": {"test": "datum.value == 0 || datum.value == -2", "value": -8}, "value": -4}}}}},
        {"data": {"name": "lines"}, "transform": [{"filter": "datum.p == '7-6'"}], "mark": {"type": "line", "clip": true, "strokeWidth": 1.5},
         "encoding": {"x": {"field": "v", "type": "quantitative", "scale": {"domain": [-35.2, 9], "nice": false, "zero": false}, "axis": {"orient": "top", "values": [-35,-32.5,-30,-27.5,-25,-22.5,-20,-17.5,-15,-12.5,-10,-7.5,-5,-2.5,0,2.5,5,7.5], "labels": false, "title": null, "tickSize": {"condition": {"test": "datum.value % 10 == 0", "value": -8}, "value": -4}}},
                      "y": {"field": "t", "type": "quantitative", "scale": {"domain": [-3, 1.3], "nice": false, "zero": false}, "axis": {"orient": "right", "values": [-2.8,-2.4,-2,-1.6,-1.2,-0.8,-0.4,0,0.4,0.8,1.2], "labels": false, "title": null, "tickSize": {"condition": {"test": "datum.value == 0 || datum.value == -2", "value": -8}, "value": -4}}},
                      "color": {"field": "s", "type": "nominal", "scale": {"domain": ["g1","g2","g3"], "range": ["#2b3bf0","#ff2a2a","#333333"]}, "legend": null}}},
        {"data": {"name": "labs"}, "transform": [{"filter": "datum.p == '7-6'"}], "mark": {"type": "text", "align": "left", "baseline": "alphabetic", "font": "DejaVu Serif", "fontSize": 19, "color": "#555555"},
         "encoding": {"x": {"field": "v", "type": "quantitative", "scale": {"domain": [-35.2, 9], "nice": false, "zero": false}, "axis": null}, "y": {"field": "t", "type": "quantitative", "scale": {"domain": [-3, 1.3], "nice": false, "zero": false}, "axis": null}, "text": {"field": "txt"}}}
      ]},
      {"width": 195, "height": 114, "resolve": {"axis": {"x": "independent", "y": "independent"}}, "layer": [
        {"data": {"name": "spec"}, "transform": [{"filter": "datum.p == '8-7'"}], "mark": {"type": "line", "interpolate": "step", "clip": true, "color": "#666666", "strokeWidth": 1},
         "encoding": {"x": {"field": "v", "type": "quantitative", "scale": {"domain": [-35.2, 9], "nice": false, "zero": false}, "axis": {"orient": "bottom", "values": [-35,-32.5,-30,-27.5,-25,-22.5,-20,-17.5,-15,-12.5,-10,-7.5,-5,-2.5,0,2.5,5,7.5], "labels": false, "title": null, "tickSize": {"condition": {"test": "datum.value % 10 == 0", "value": -8}, "value": -4}}},
                      "y": {"field": "t", "type": "quantitative", "scale": {"domain": [-3, 1.3], "nice": false, "zero": false}, "axis": {"orient": "left", "values": [-2.8,-2.4,-2,-1.6,-1.2,-0.8,-0.4,0,0.4,0.8,1.2], "labels": false, "title": null, "tickSize": {"condition": {"test": "datum.value == 0 || datum.value == -2", "value": -8}, "value": -4}}}}},
        {"data": {"name": "lines"}, "transform": [{"filter": "datum.p == '8-7'"}], "mark": {"type": "line", "clip": true, "strokeWidth": 1.5},
         "encoding": {"x": {"field": "v", "type": "quantitative", "scale": {"domain": [-35.2, 9], "nice": false, "zero": false}, "axis": {"orient": "top", "values": [-35,-32.5,-30,-27.5,-25,-22.5,-20,-17.5,-15,-12.5,-10,-7.5,-5,-2.5,0,2.5,5,7.5], "labels": false, "title": null, "tickSize": {"condition": {"test": "datum.value % 10 == 0", "value": -8}, "value": -4}}},
                      "y": {"field": "t", "type": "quantitative", "scale": {"domain": [-3, 1.3], "nice": false, "zero": false}, "axis": {"orient": "right", "values": [-2.8,-2.4,-2,-1.6,-1.2,-0.8,-0.4,0,0.4,0.8,1.2], "labels": false, "title": null, "tickSize": {"condition": {"test": "datum.value == 0 || datum.value == -2", "value": -8}, "value": -4}}},
                      "color": {"field": "s", "type": "nominal", "scale": {"domain": ["g1","g2","g3"], "range": ["#2b3bf0","#ff2a2a","#333333"]}, "legend": null}}},
        {"data": {"name": "labs"}, "transform": [{"filter": "datum.p == '8-7'"}], "mark": {"type": "text", "align": "left", "baseline": "alphabetic", "font": "DejaVu Serif", "fontSize": 19, "color": "#555555"},
         "encoding": {"x": {"field": "v", "type": "quantitative", "scale": {"domain": [-35.2, 9], "nice": false, "zero": false}, "axis": null}, "y": {"field": "t", "type": "quantitative", "scale": {"domain": [-3, 1.3], "nice": false, "zero": false}, "axis": null}, "text": {"field": "txt"}}}
      ]},
      {"width": 196, "height": 114, "resolve": {"axis": {"x": "independent", "y": "independent"}}, "layer": [
        {"data": {"name": "spec"}, "transform": [{"filter": "datum.p == '5-4'"}], "mark": {"type": "line", "interpolate": "step", "clip": true, "color": "#666666", "strokeWidth": 1},
         "encoding": {"x": {"field": "v", "type": "quantitative", "scale": {"domain": [-35.2, 9], "nice": false, "zero": false}, "axis": {"orient": "bottom", "values": [-35,-32.5,-30,-27.5,-25,-22.5,-20,-17.5,-15,-12.5,-10,-7.5,-5,-2.5,0,2.5,5,7.5], "labelExpr": "datum.value % 10 == 0 ? datum.label : ''", "title": null, "labelPadding": 15, "tickSize": {"condition": {"test": "datum.value % 10 == 0", "value": -8}, "value": -4}}},
                      "y": {"field": "t", "type": "quantitative", "scale": {"domain": [-3, 1.3], "nice": false, "zero": false}, "axis": {"orient": "left", "values": [-2.8,-2.4,-2,-1.6,-1.2,-0.8,-0.4,0,0.4,0.8,1.2], "labelExpr": "datum.value == 0 ? '1' : datum.value == -2 ? '10⁻²' : ''", "title": null, "tickSize": {"condition": {"test": "datum.value == 0 || datum.value == -2", "value": -8}, "value": -4}}}}},
        {"data": {"name": "lines"}, "transform": [{"filter": "datum.p == '5-4'"}], "mark": {"type": "line", "clip": true, "strokeWidth": 1.5},
         "encoding": {"x": {"field": "v", "type": "quantitative", "scale": {"domain": [-35.2, 9], "nice": false, "zero": false}, "axis": {"orient": "top", "values": [-35,-32.5,-30,-27.5,-25,-22.5,-20,-17.5,-15,-12.5,-10,-7.5,-5,-2.5,0,2.5,5,7.5], "labels": false, "title": null, "tickSize": {"condition": {"test": "datum.value % 10 == 0", "value": -8}, "value": -4}}},
                      "y": {"field": "t", "type": "quantitative", "scale": {"domain": [-3, 1.3], "nice": false, "zero": false}, "axis": {"orient": "right", "values": [-2.8,-2.4,-2,-1.6,-1.2,-0.8,-0.4,0,0.4,0.8,1.2], "labels": false, "title": null, "tickSize": {"condition": {"test": "datum.value == 0 || datum.value == -2", "value": -8}, "value": -4}}},
                      "color": {"field": "s", "type": "nominal", "scale": {"domain": ["g1","g2","g3"], "range": ["#2b3bf0","#ff2a2a","#333333"]}, "legend": null}}},
        {"data": {"name": "labs"}, "transform": [{"filter": "datum.p == '5-4'"}], "mark": {"type": "text", "align": "left", "baseline": "alphabetic", "font": "DejaVu Serif", "fontSize": 19, "color": "#555555"},
         "encoding": {"x": {"field": "v", "type": "quantitative", "scale": {"domain": [-35.2, 9], "nice": false, "zero": false}, "axis": null}, "y": {"field": "t", "type": "quantitative", "scale": {"domain": [-3, 1.3], "nice": false, "zero": false}, "axis": null}, "text": {"field": "txt"}}}
      ]},
      {"width": 195, "height": 114, "resolve": {"axis": {"x": "independent", "y": "independent"}}, "layer": [
        {"data": {"name": "spec"}, "transform": [{"filter": "datum.p == '6-5'"}], "mark": {"type": "line", "interpolate": "step", "clip": true, "color": "#666666", "strokeWidth": 1},
         "encoding": {"x": {"field": "v", "type": "quantitative", "scale": {"domain": [-35.2, 9], "nice": false, "zero": false}, "axis": {"orient": "bottom", "values": [-35,-32.5,-30,-27.5,-25,-22.5,-20,-17.5,-15,-12.5,-10,-7.5,-5,-2.5,0,2.5,5,7.5], "labelExpr": "datum.value % 10 == 0 ? datum.label : ''", "title": null, "labelPadding": 15, "tickSize": {"condition": {"test": "datum.value % 10 == 0", "value": -8}, "value": -4}}},
                      "y": {"field": "t", "type": "quantitative", "scale": {"domain": [-3, 1.3], "nice": false, "zero": false}, "axis": {"orient": "left", "values": [-2.8,-2.4,-2,-1.6,-1.2,-0.8,-0.4,0,0.4,0.8,1.2], "labels": false, "title": null, "tickSize": {"condition": {"test": "datum.value == 0 || datum.value == -2", "value": -8}, "value": -4}}}}},
        {"data": {"name": "lines"}, "transform": [{"filter": "datum.p == '6-5'"}], "mark": {"type": "line", "clip": true, "strokeWidth": 1.5},
         "encoding": {"x": {"field": "v", "type": "quantitative", "scale": {"domain": [-35.2, 9], "nice": false, "zero": false}, "axis": {"orient": "top", "values": [-35,-32.5,-30,-27.5,-25,-22.5,-20,-17.5,-15,-12.5,-10,-7.5,-5,-2.5,0,2.5,5,7.5], "labels": false, "title": null, "tickSize": {"condition": {"test": "datum.value % 10 == 0", "value": -8}, "value": -4}}},
                      "y": {"field": "t", "type": "quantitative", "scale": {"domain": [-3, 1.3], "nice": false, "zero": false}, "axis": {"orient": "right", "values": [-2.8,-2.4,-2,-1.6,-1.2,-0.8,-0.4,0,0.4,0.8,1.2], "labels": false, "title": null, "tickSize": {"condition": {"test": "datum.value == 0 || datum.value == -2", "value": -8}, "value": -4}}},
                      "color": {"field": "s", "type": "nominal", "scale": {"domain": ["g1","g2","g3"], "range": ["#2b3bf0","#ff2a2a","#333333"]}, "legend": null}}},
        {"data": {"name": "labs"}, "transform": [{"filter": "datum.p == '6-5'"}], "mark": {"type": "text", "align": "left", "baseline": "alphabetic", "font": "DejaVu Serif", "fontSize": 19, "color": "#555555"},
         "encoding": {"x": {"field": "v", "type": "quantitative", "scale": {"domain": [-35.2, 9], "nice": false, "zero": false}, "axis": null}, "y": {"field": "t", "type": "quantitative", "scale": {"domain": [-3, 1.3], "nice": false, "zero": false}, "axis": null}, "text": {"field": "txt"}}}
      ]},
      {"width": 196, "height": 113, "resolve": {"axis": {"x": "independent", "y": "independent"}}, "layer": [
        {"data": {"name": "spec"}, "transform": [{"filter": "datum.p == '1-0'"}], "mark": {"type": "line", "interpolate": "step", "clip": true, "color": "#222222", "strokeWidth": 1.2},
         "encoding": {"x": {"field": "v", "type": "quantitative", "scale": {"domain": [-45.5, 8.6], "nice": false, "zero": false}, "axis": {"orient": "bottom", "values": [-44,-40,-36,-32,-28,-24,-20,-16,-12,-8,-4,0,4,8], "labelExpr": "datum.value % 20 == 0 ? datum.label : ''", "title": "V (km/s)", "labelPadding": 17, "titlePadding": 4, "tickSize": {"condition": {"test": "datum.value % 20 == 0", "value": -8}, "value": -4}}},
                      "y": {"field": "t", "type": "quantitative", "scale": {"domain": [-2.69, 1.55], "nice": false, "zero": false}, "axis": {"orient": "left", "values": [-2.4,-2,-1.6,-1.2,-0.8,-0.4,0,0.4,0.8,1.2], "labelExpr": "datum.value == 0 ? '1' : datum.value == -2 ? '10⁻²' : ''", "title": null, "tickSize": {"condition": {"test": "datum.value == 0 || datum.value == -2", "value": -8}, "value": -4}}}}},
        {"data": {"name": "lines"}, "transform": [{"filter": "datum.p == '1-0'"}], "mark": {"type": "line", "clip": true, "strokeWidth": 1.5},
         "encoding": {"x": {"field": "v", "type": "quantitative", "scale": {"domain": [-45.5, 8.6], "nice": false, "zero": false}, "axis": {"orient": "top", "values": [-44,-40,-36,-32,-28,-24,-20,-16,-12,-8,-4,0,4,8], "labels": false, "title": null, "tickSize": {"condition": {"test": "datum.value % 20 == 0", "value": -8}, "value": -4}}},
                      "y": {"field": "t", "type": "quantitative", "scale": {"domain": [-2.69, 1.55], "nice": false, "zero": false}, "axis": {"orient": "right", "values": [-2.4,-2,-1.6,-1.2,-0.8,-0.4,0,0.4,0.8,1.2], "labels": false, "title": null, "tickSize": {"condition": {"test": "datum.value == 0 || datum.value == -2", "value": -8}, "value": -4}}},
                      "color": {"field": "s", "type": "nominal", "scale": {"domain": ["g1","g2","g3"], "range": ["#2b3bf0","#ff2a2a","#333333"]}, "legend": null}}},
        {"data": {"name": "fit"}, "transform": [{"filter": "datum.p == '1-0'"}], "mark": {"type": "line", "clip": true, "interpolate": "monotone", "color": "#c040c0", "strokeWidth": 1.5, "strokeDash": [3, 2]},
         "encoding": {"x": {"field": "v", "type": "quantitative", "scale": {"domain": [-45.5, 8.6], "nice": false, "zero": false}, "axis": null}, "y": {"field": "t", "type": "quantitative", "scale": {"domain": [-2.69, 1.55], "nice": false, "zero": false}, "axis": null}}},
        {"data": {"name": "labs"}, "transform": [{"filter": "datum.p == '1-0'"}], "mark": {"type": "text", "align": "left", "baseline": "alphabetic", "font": "DejaVu Serif", "fontSize": 17, "color": "#222222"},
         "encoding": {"x": {"field": "v", "type": "quantitative", "scale": {"domain": [-45.5, 8.6], "nice": false, "zero": false}, "axis": null}, "y": {"field": "t", "type": "quantitative", "scale": {"domain": [-2.69, 1.55], "nice": false, "zero": false}, "axis": null}, "text": {"field": "txt"}}},
        {"data": {"name": "glabs"}, "mark": {"type": "text", "align": "left", "baseline": "middle", "font": "DejaVu Serif", "fontSize": 15},
         "encoding": {"x": {"field": "v", "type": "quantitative", "scale": {"domain": [-45.5, 8.6], "nice": false, "zero": false}, "axis": null}, "y": {"field": "t", "type": "quantitative", "scale": {"domain": [-2.69, 1.55], "nice": false, "zero": false}, "axis": null}, "text": {"field": "txt"},
                      "color": {"field": "s", "type": "nominal", "scale": {"domain": ["g1","g2","g3"], "range": ["#2b3bf0","#ff2a2a","#333333"]}, "legend": null}}}
      ]},
      {"width": 200, "height": 113, "resolve": {"axis": {"x": "independent", "y": "independent"}}, "layer": [
        {"data": {"name": "spec"}, "transform": [{"filter": "datum.p == '2-1'"}], "mark": {"type": "line", "interpolate": "step", "clip": true, "color": "#222222", "strokeWidth": 1.2},
         "encoding": {"x": {"field": "v", "type": "quantitative", "scale": {"domain": [-45.5, 9.7], "nice": false, "zero": false}, "axis": {"orient": "bottom", "values": [-44,-40,-36,-32,-28,-24,-20,-16,-12,-8,-4,0,4,8], "labelExpr": "datum.value % 20 == 0 ? datum.label : ''", "title": "V (km/s)", "labelPadding": 17, "titlePadding": 4, "tickSize": {"condition": {"test": "datum.value % 20 == 0", "value": -8}, "value": -4}}},
                      "y": {"field": "t", "type": "quantitative", "scale": {"domain": [-2.69, 1.55], "nice": false, "zero": false}, "axis": {"orient": "left", "values": [-2.4,-2,-1.6,-1.2,-0.8,-0.4,0,0.4,0.8,1.2], "labels": false, "title": null, "tickSize": {"condition": {"test": "datum.value == 0 || datum.value == -2", "value": -8}, "value": -4}}}}},
        {"data": {"name": "lines"}, "transform": [{"filter": "datum.p == '2-1'"}], "mark": {"type": "line", "clip": true, "strokeWidth": 1.5},
         "encoding": {"x": {"field": "v", "type": "quantitative", "scale": {"domain": [-45.5, 9.7], "nice": false, "zero": false}, "axis": {"orient": "top", "values": [-44,-40,-36,-32,-28,-24,-20,-16,-12,-8,-4,0,4,8], "labels": false, "title": null, "tickSize": {"condition": {"test": "datum.value % 20 == 0", "value": -8}, "value": -4}}},
                      "y": {"field": "t", "type": "quantitative", "scale": {"domain": [-2.69, 1.55], "nice": false, "zero": false}, "axis": {"orient": "right", "values": [-2.4,-2,-1.6,-1.2,-0.8,-0.4,0,0.4,0.8,1.2], "labels": false, "title": null, "tickSize": {"condition": {"test": "datum.value == 0 || datum.value == -2", "value": -8}, "value": -4}}},
                      "color": {"field": "s", "type": "nominal", "scale": {"domain": ["g1","g2","g3"], "range": ["#2b3bf0","#ff2a2a","#333333"]}, "legend": null}}},
        {"data": {"name": "fit"}, "transform": [{"filter": "datum.p == '2-1'"}], "mark": {"type": "line", "clip": true, "interpolate": "monotone", "color": "#c040c0", "strokeWidth": 1.5, "strokeDash": [3, 2]},
         "encoding": {"x": {"field": "v", "type": "quantitative", "scale": {"domain": [-45.5, 9.7], "nice": false, "zero": false}, "axis": null}, "y": {"field": "t", "type": "quantitative", "scale": {"domain": [-2.69, 1.55], "nice": false, "zero": false}, "axis": null}}},
        {"data": {"name": "labs"}, "transform": [{"filter": "datum.p == '2-1'"}], "mark": {"type": "text", "align": "left", "baseline": "alphabetic", "font": "DejaVu Serif", "fontSize": 17, "color": "#222222"},
         "encoding": {"x": {"field": "v", "type": "quantitative", "scale": {"domain": [-45.5, 9.7], "nice": false, "zero": false}, "axis": null}, "y": {"field": "t", "type": "quantitative", "scale": {"domain": [-2.69, 1.55], "nice": false, "zero": false}, "axis": null}, "text": {"field": "txt"}}}
      ]}
    ]}
  ]}
]
}
